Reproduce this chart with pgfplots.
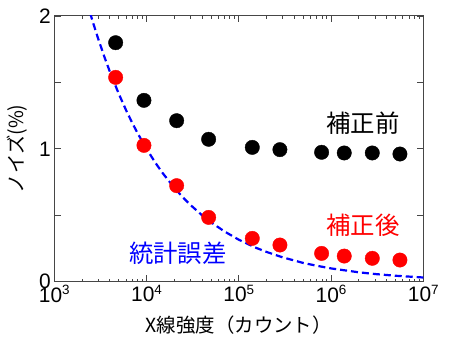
\documentclass[border=0pt]{standalone}
\usepackage{pgfplots}
\pgfplotsset{compat=1.18}
\usepackage{fontspec}
\setmainfont{Liberation Sans}
\newfontfamily\jp{Noto Sans CJK JP}
\definecolor{axgray}{RGB}{70,70,70}
\newcommand{\tp}[1]{10\raisebox{7.5bp}{\fontsize{13.5}{14}\selectfont #1}}
\begin{document}
\begin{tikzpicture}
\begin{axis}[
  name=ax,
  scale only axis,
  width=369bp, height=265.7bp,
  xmode=log,
  xmin=1e3, xmax=1e7,
  ymin=0, ymax=2,
  xtick={1e3,1e4,1e5,1e6,1e7},
  xticklabels={\tp{3},\tp{4},\tp{5},\tp{6},\tp{7}},
  minor xtick={},
  ytick={0,0.5,1,1.5,2},
  yticklabels={0,,1,,2},
  tick align=inside,
  major tick length=6.5bp,
  tick style={axgray, line width=0.9bp},
  axis line style={axgray, line width=1bp},
  ticklabel style={font=\fontsize{21}{23}\selectfont, text=black},
  xticklabel style={yshift=0bp},
  yticklabel style={xshift=0bp},
  xlabel={\jp X線強度（カウント）},
  ylabel={\jp ノイズ(\%)},
  xlabel style={font=\fontsize{19.5}{21}\selectfont, at={(axis description cs:0.5,-0.163)}, anchor=center},
  ylabel style={font=\fontsize{19.5}{21}\selectfont, at={(axis description cs:-0.101,0.5)}, anchor=center, rotate=0},
  clip=true,
]
\addplot[blue, line width=2.2bp, dash pattern=on 7bp off 4bp] coordinates {
 (2440,2.024) (2700,1.925) (3000,1.826) (3500,1.690) (4000,1.581) (5000,1.414) (6000,1.291)
 (7000,1.195) (8000,1.118) (10000,1.0) (12500,0.894) (15000,0.816) (20000,0.707)
 (25000,0.632) (30000,0.577) (40000,0.5) (50000,0.447) (70000,0.378) (100000,0.316)
 (150000,0.258) (200000,0.224) (300000,0.183) (500000,0.141) (700000,0.120)
 (1000000,0.1) (2000000,0.0707) (3000000,0.0577) (5000000,0.0447) (10000000,0.0316)
};
\addplot[only marks, mark=*, mark size=7.2bp, black, mark options={draw=black, fill=black}] coordinates {
 (4624,1.799) (9375,1.365) (21200,1.212) (47100,1.072) (140000,1.011)
 (279000,0.994) (790000,0.974) (1390000,0.969) (2800000,0.969) (5580000,0.961)
};
\addplot[only marks, mark=*, mark size=7.2bp, red, mark options={draw=red, fill=red}] coordinates {
 (4624,1.538) (9375,1.026) (21200,0.723) (47100,0.484) (140000,0.326)
 (279000,0.276) (790000,0.213) (1390000,0.193) (2800000,0.176) (5580000,0.163)
};
\node[font=\jp\fontsize{24.5}{26}\selectfont, text=black] at (axis cs:2.22e6,1.195) {補正前};
\node[font=\jp\fontsize{24.5}{26}\selectfont, text=red] at (axis cs:2.22e6,0.427) {補正後};
\node[font=\jp\fontsize{24.5}{26}\selectfont, text=blue] at (axis cs:21900,0.216) {統計誤差};
\end{axis}
\path[use as bounding box] ([xshift=-54.3bp,yshift=-64.3bp]ax.south west) rectangle ([xshift=26.7bp,yshift=16bp]ax.north east);
\end{tikzpicture}
\end{document}
